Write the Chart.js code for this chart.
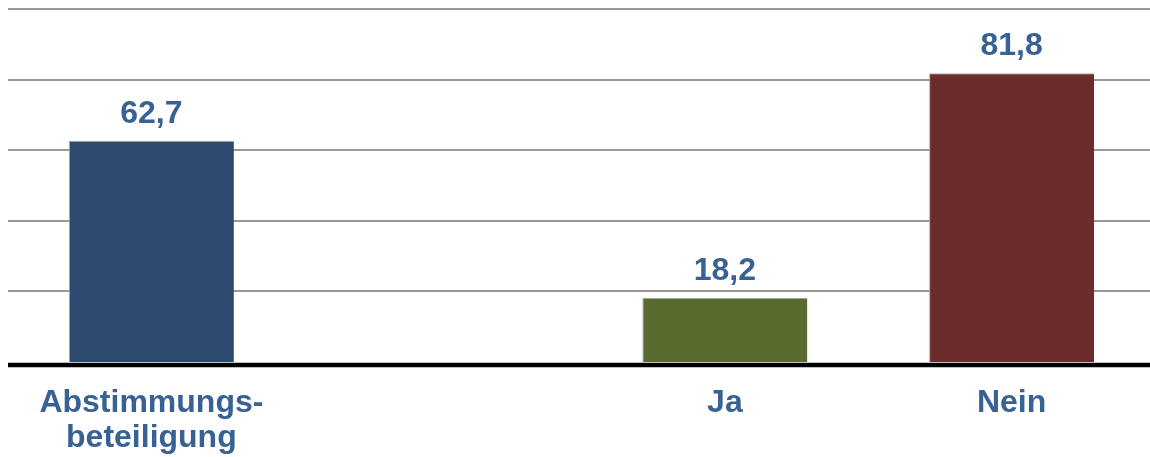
<!DOCTYPE html>
<html>
<head>
<meta charset="utf-8">
<script src="https://cdn.jsdelivr.net/npm/chart.js@4/dist/chart.umd.min.js"></script>
<style>
html, body { margin: 0; padding: 0; background: #fff; overflow: hidden; }
#wrap { width: 1155px; height: 457px; }
</style>
</head>
<body>
<div id="wrap"><canvas id="grafico"></canvas></div>
<script>
// Daten
const kategorien = [["Abstimmungs-", "beteiligung"], "", "Ja", "Nein"];
const werte = [62.7, null, 18.2, 81.8];
const farben = ["#2c4a6d", "#ffffff", "#5a6b2f", "#6b2c2b"];
const yTicks = [20, 40, 60, 80, 100];

const textFarbe = "#386293";
const schrift = "'Liberation Sans', Arial, sans-serif";

/* Werte über den Balken + schwarze Grundlinie */
const wertLabels = {
  id: "wertLabels",
  afterDatasetsDraw(chart) {
    const ctx = chart.ctx;
    const meta = chart.getDatasetMeta(0);
    const y0 = chart.scales.y.getPixelForValue(0);
    ctx.save();
    ctx.strokeStyle = "#000000";
    ctx.lineWidth = 4.5;
    ctx.beginPath();
    ctx.moveTo(chart.chartArea.left, y0 + 3);
    ctx.lineTo(chart.width, y0 + 3);
    ctx.stroke();

    ctx.font = "bold 32px " + schrift;
    ctx.fillStyle = textFarbe;
    ctx.textAlign = "center";
    ctx.textBaseline = "alphabetic";
    meta.data.forEach((bar, i) => {
      const v = werte[i];
      if (v === null) return;
      ctx.fillText(v.toFixed(1).replace(".", ","), bar.x, bar.y - 18);
    });
    ctx.restore();
  }
};

new Chart(document.getElementById("grafico"), {
  type: "bar",
  data: {
    labels: kategorien,
    datasets: [{
      data: werte,
      backgroundColor: farben,
      borderColor: "#a8a8a8",
      borderWidth: {top: 1, left: 1, right: 0, bottom: 0},
      borderSkipped: false,
      categoryPercentage: 1,
      barPercentage: 0.5755
    }]
  },
  options: {
    responsive: true,
    maintainAspectRatio: false,
    animation: false,
    layout: { padding: { top: 9, left: 8, right: 0, bottom: 0 } },
    plugins: {
      legend: { display: false },
      tooltip: { enabled: false }
    },
    scales: {
      y: {
        min: 0,
        max: 100,
        afterBuildTicks(scale) {
          scale.ticks = yTicks.map(v => ({ value: v }));
        },
        afterFit(scale) { scale.width = 0; },
        ticks: { display: false },
        grid: { color: "#999999", lineWidth: 2, drawTicks: false },
        border: { display: false }
      },
      x: {
        afterFit(scale) { scale.height = 95; },
        grid: { display: false },
        border: { display: false },
        ticks: {
          padding: 16,
          color: textFarbe,
          maxRotation: 0,
          autoSkip: false,
          font: { family: schrift, size: 32, weight: "bold", lineHeight: 1.08 }
        }
      }
    }
  },
  plugins: [wertLabels]
});
</script>
</body>
</html>
